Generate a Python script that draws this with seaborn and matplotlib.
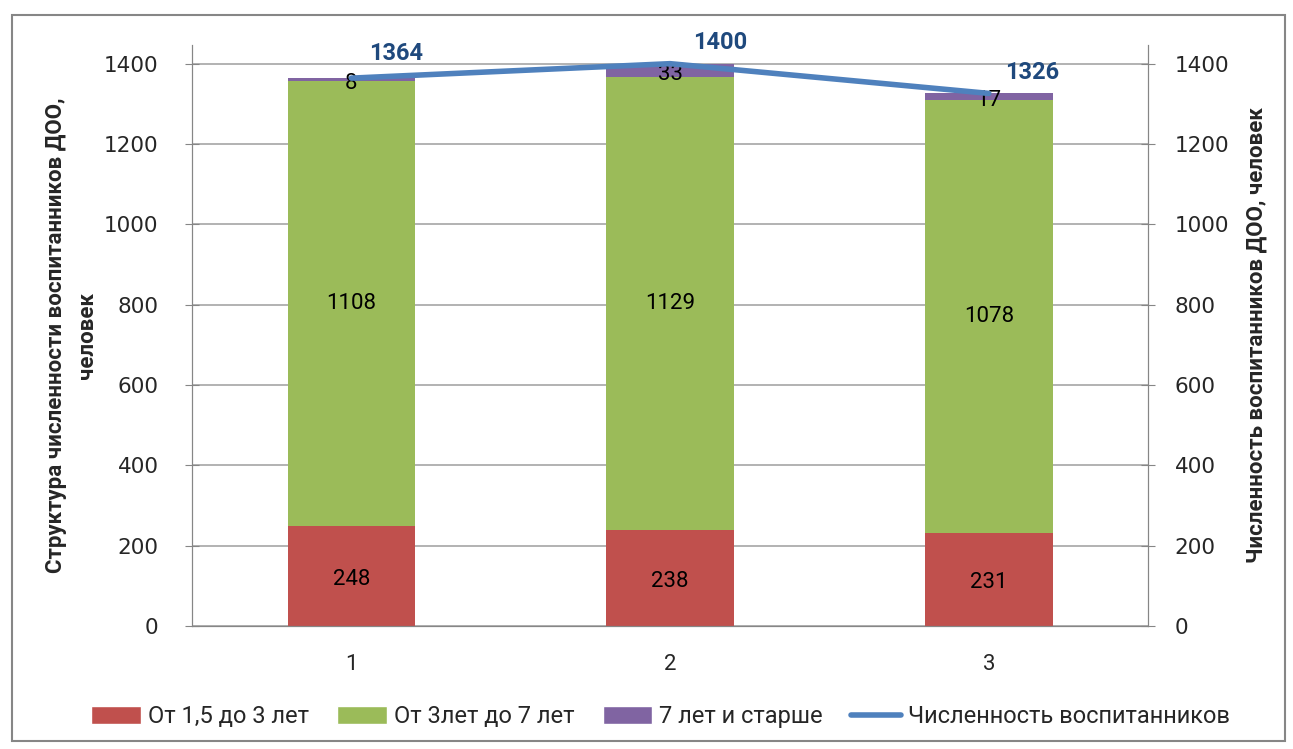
import matplotlib
matplotlib.use("Agg")
import matplotlib.pyplot as plt
from matplotlib.patches import Patch, Rectangle
from matplotlib.lines import Line2D
import pandas as pd
import seaborn as sns

# Данные
categories = ["1", "2", "3"]
age_1_5_3 = [248, 238, 231]
age_3_7 = [1108, 1129, 1078]
age_7_plus = [8, 33, 17]
total = [1364, 1400, 1326]
series_names = ["От 1,5 до 3 лет", "От 3лет до 7 лет", "7 лет и старше",
                "Численность воспитанников"]
colors = ["#C0504D", "#9BBB59", "#8064A2", "#4F81BD"]

sns.set_style("white")
narrow = ["Roboto", "DejaVu Sans"]
plt.rcParams["font.family"] = ["DejaVu Sans"]

fig = plt.figure(figsize=(12.93, 7.49), dpi=100)
ax = fig.add_axes([0.1485, 0.1642, 0.7395, 0.776])

df = pd.DataFrame({"cat": categories, "a": age_1_5_3, "b": age_3_7, "c": age_7_plus})
bottom_b = df["a"].values
bottom_c = (df["a"] + df["b"]).values

sns.barplot(data=df, x="cat", y="a", color=colors[0], width=0.4, ax=ax,
            saturation=1, linewidth=0)
sns.barplot(data=df, x="cat", y="b", color=colors[1], width=0.4, ax=ax,
            saturation=1, bottom=bottom_b, linewidth=0)
sns.barplot(data=df, x="cat", y="c", color=colors[2], width=0.4, ax=ax,
            saturation=1, bottom=bottom_c, linewidth=0)

# подписи внутри сегментов
for i in range(len(categories)):
    ax.text(i, age_1_5_3[i] / 2 - 8, str(age_1_5_3[i]), ha="center", va="center",
            fontsize=16, family=narrow, color="black")
    ax.text(i, bottom_b[i] + age_3_7[i] / 2, str(age_3_7[i]), ha="center",
            va="center", fontsize=16, family=narrow, color="black")
    ax.text(i, bottom_c[i] + age_7_plus[i] / 2 - 10, str(age_7_plus[i]),
            ha="center", va="center", fontsize=16, family=narrow, color="black")

ymax = 1447
ax.set_ylim(0, ymax)
ax.set_xlim(-0.5, 2.5)
ax.set_yticks(range(0, 1401, 200))
ax.tick_params(axis="y", direction="inout", length=10, color="#868686",
               labelsize=15.5, pad=19)
ax.set_xticks([-0.5, 0.5, 1.5, 2.5])
ax.set_xticklabels([])
ax.set_xticks([0, 1, 2], minor=True)
ax.set_xticklabels(categories, minor=True, fontsize=16, family=narrow)
ax.tick_params(axis="x", which="major", direction="out", length=7, color="#868686")
ax.tick_params(axis="x", which="minor", length=0, pad=20)
ax.set_xlabel("")
ax.set_ylabel("Структура численности воспитанников ДОО,\nчеловек",
              fontsize=16, fontweight="bold", family=narrow, labelpad=4,
              linespacing=1.55)
ax.yaxis.grid(True, color="#A6A6A6", linewidth=1.2)
ax.set_axisbelow(True)
ax.spines["top"].set_visible(False)
for s in ["left", "right", "bottom"]:
    ax.spines[s].set_color("#868686")

# линия на вспомогательной оси
ax2 = ax.twinx()
sns.lineplot(x=[0, 1, 2], y=total, color=colors[3], linewidth=4, ax=ax2)
ax2.set_ylim(0, ymax)
ax2.set_xlim(-0.5, 2.5)
ax2.set_yticks(range(0, 1401, 200))
ax2.tick_params(axis="y", direction="inout", length=10, color="#868686",
                labelsize=15.5, pad=14)
ax2.set_ylabel("Численность воспитанников ДОО, человек", fontsize=16,
               fontweight="bold", family=narrow, labelpad=12)
ax2.spines["top"].set_visible(False)
for s in ["left", "right", "bottom"]:
    ax2.spines[s].set_color("#868686")
offsets = [(32, 18), (36, 15), (31, 15)]
for i, v in enumerate(total):
    ax2.annotate(str(v), (i, v), xytext=offsets[i], textcoords="offset points",
                 ha="center", va="center", fontsize=17, fontweight="bold",
                 family=narrow, color="#1F497D")

handles = [Patch(facecolor=c) for c in colors[:3]] + \
          [Line2D([0], [0], color=colors[3], linewidth=4)]
fig.legend(handles, series_names, loc="center", bbox_to_anchor=(0.511, 0.043),
           ncol=4, frameon=False, prop={"family": narrow, "size": 17},
           handlelength=2.1, handleheight=0.8, columnspacing=1.2, handletextpad=0.3)

fig.patches.append(Rectangle((12 / 1293, 8 / 749), 1 - 20 / 1293, 1 - 23 / 749,
                             transform=fig.transFigure, fill=False,
                             edgecolor="#868686", linewidth=1.5))

fig.savefig("out.png", dpi=100)
